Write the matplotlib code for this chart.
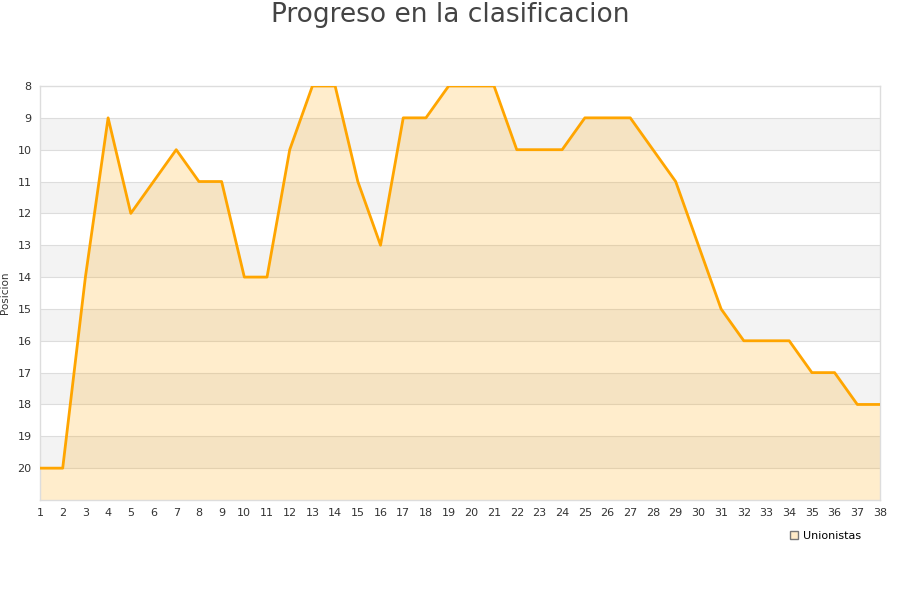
import matplotlib.pyplot as plt
from matplotlib.lines import Line2D

jornadas = list(range(1, 39))
posiciones = [20, 20, 14, 9, 12, 11, 10, 11, 11, 14, 14, 10, 8, 8, 11, 13, 9, 9, 8, 8,
              8, 10, 10, 10, 9, 9, 9, 10, 11, 13, 15, 16, 16, 16, 17, 17, 18, 18]
y_ticks = list(range(8, 21))

fig = plt.figure(figsize=(9, 6), dpi=100)
ax = fig.add_axes([40 / 900, 100 / 600, 840 / 900, 414 / 600])

# alternating bands
for k in range(9, 21, 2):
    ax.axhspan(k, k + 1, color='#f3f3f3', zorder=0, lw=0)
for k in range(9, 21):
    ax.axhline(k, color='#dddddd', lw=0.8, zorder=1)

ax.fill_between(jornadas, posiciones, 21, color='orange', alpha=0.2, lw=0, zorder=2)
ax.plot(jornadas, posiciones, color='#ffa500', lw=2, zorder=3)

ax.set_xlim(1, 38)
ax.set_ylim(21, 8)
ax.set_xticks(jornadas)
ax.set_yticks(y_ticks)
ax.tick_params(length=0, labelsize=8, colors='#333333', pad=6)
for s in ax.spines.values():
    s.set_color('#dddddd')
    s.set_linewidth(1)

ax.set_ylabel('Posicion', fontsize=7.5, color='#333333')
ax.yaxis.set_label_coords(-30 / 840, 0.5)
fig.text(0.5, 1 - 15 / 600, 'Progreso en la clasificacion', fontsize=19, color='#444444',
         ha='center', va='center')

handle = Line2D([], [], marker='s', ls='', markersize=6, markerfacecolor='#ffebc8',
                markeredgecolor='#777777', markeredgewidth=1)
fig.legend([handle], ['Unionistas'], loc='center', bbox_to_anchor=(825 / 900, 1 - 536 / 600),
           frameon=False, fontsize=8, handletextpad=0.3, handlelength=1)

fig.savefig('out.png')
